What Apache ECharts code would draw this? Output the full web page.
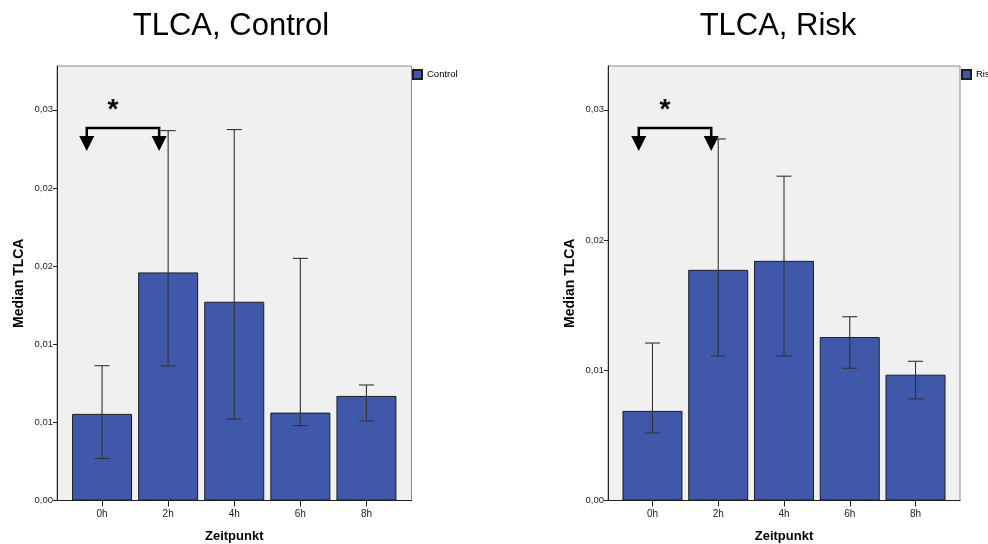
<!DOCTYPE html>
<html>
<head>
<meta charset="utf-8">
<script src="https://cdn.jsdelivr.net/npm/echarts@6/dist/echarts.min.js"></script>
<style>html,body{margin:0;padding:0;background:#fff}#c{width:988px;height:544px}</style>
</head>
<body>
<div id="c"></div>
<script>
const categories = ['0h', '2h', '4h', '6h', '8h'];
const controlMedian = [0.00665, 0.01751, 0.01526, 0.00675, 0.00803];
const controlLow    = [0.00322, 0.01033, 0.00626, 0.00575, 0.00611];
const controlHigh   = [0.01035, 0.02840, 0.02848, 0.01859, 0.00887];
const riskMedian = [0.00688, 0.01771, 0.01840, 0.01255, 0.00966];
const riskLow    = [0.00519, 0.01110, 0.01110, 0.01015, 0.00780];
const riskHigh   = [0.01209, 0.02776, 0.02490, 0.01411, 0.01069];
const controlTicks = [0, 0.006, 0.012, 0.018, 0.024, 0.030];
const riskTicks = [0, 0.01, 0.02, 0.03];
const yMax = 0.03336;
const sigLevel = 0.0286;   // height of the significance bracket (0h vs 2h)

const chart = echarts.init(document.getElementById('c'));
const FONT = 'Liberation Sans, Arial, sans-serif';
const BAR = '#3f58a9';
const DARK = '#222';

function errData(lo, hi) { return lo.map((v, i) => [i, v, hi[i]]); }

function errRender(params, api) {
  const x = api.value(0);
  const lo = api.coord([x, api.value(1)]);
  const hi = api.coord([x, api.value(2)]);
  const w = 7.5;
  const st = { stroke: '#333', lineWidth: 1.1 };
  return { type: 'group', children: [
    { type: 'line', shape: { x1: lo[0], y1: lo[1], x2: hi[0], y2: hi[1] }, style: st },
    { type: 'line', shape: { x1: lo[0] - w, y1: lo[1], x2: lo[0] + w, y2: lo[1] }, style: st },
    { type: 'line', shape: { x1: hi[0] - w, y1: hi[1], x2: hi[0] + w, y2: hi[1] }, style: st }
  ]};
}

function sigRender(off0, off1) {
  return function (params, api) {
    const a = api.coord([api.value(0), api.value(2)]);
    const b = api.coord([api.value(1), api.value(2)]);
    const x0 = a[0] + off0, x1 = b[0] + off1, y = a[1];
    return { type: 'group', children: [
      { type: 'polyline', shape: { points: [[x0, y + 9], [x0, y], [x1, y], [x1, y + 9]] },
        style: { stroke: '#000', lineWidth: 2.5, fill: null } },
      { type: 'polygon', shape: { points: [[x0 - 7.5, y + 8], [x0 + 7.5, y + 8], [x0, y + 23]] }, style: { fill: '#000' } },
      { type: 'polygon', shape: { points: [[x1 - 7.5, y + 8], [x1 + 7.5, y + 8], [x1, y + 23]] }, style: { fill: '#000' } },
      { type: 'text', x: (x0 + x1) / 2 - 10, y: y - 18,
        style: { text: '*', fill: '#000', font: 'bold 28px ' + FONT, align: 'center', verticalAlign: 'middle' } }
    ]};
  };
}

const fmt = v => v.toFixed(2).replace('.', ',');

function frameY(ticks, gi) {
  return {
    gridIndex: gi, type: 'value', min: 0, max: yMax,
    name: 'Median TLCA', nameLocation: 'middle', nameGap: 31,
    nameTextStyle: { fontFamily: FONT, fontWeight: 'bold', fontSize: 14, color: '#000' },
    axisLine: { show: true, lineStyle: { color: DARK, width: 1 } },
    axisTick: { show: true, length: 4, lineStyle: { color: DARK }, customValues: ticks },
    axisLabel: { show: true, fontSize: 9.5, fontFamily: FONT, color: '#222', margin: 4, formatter: fmt, customValues: ticks },
    splitLine: { show: false }
  };
}
function frameX(gi) {
  return { gridIndex: gi, type: 'value', min: 0, max: 1,
    axisLine: { show: true, onZero: false, lineStyle: { color: DARK, width: 1 } },
    axisTick: { show: false }, axisLabel: { show: false }, splitLine: { show: false } };
}
function dataX(gi) {
  return { gridIndex: gi, type: 'category', data: categories,
    name: 'Zeitpunkt', nameLocation: 'middle', nameGap: 29,
    nameTextStyle: { fontFamily: FONT, fontWeight: 'bold', fontSize: 13, color: '#000' },
    axisLine: { show: false },
    axisTick: { show: true, alignWithLabel: true, length: 6, lineStyle: { color: DARK } },
    axisLabel: { fontSize: 10, fontFamily: FONT, color: '#222', margin: 9 },
    splitLine: { show: false } };
}
function dataY(gi) {
  return { gridIndex: gi, type: 'value', min: 0, max: yMax, show: false, splitLine: { show: false } };
}

const frameStyle = { show: true, backgroundColor: '#f0f0f0', borderColor: '#8c8c8c', borderWidth: 1, outerBoundsMode: 'none', containLabel: false };
const dataStyle = { show: false, outerBoundsMode: 'none', containLabel: false };

chart.setOption({
  backgroundColor: '#fff',
  animation: false,
  title: [
    { text: 'TLCA, Control', left: 231, top: 11, padding: 0, textAlign: 'center',
      textStyle: { fontFamily: FONT, fontSize: 31, fontWeight: 'normal', color: '#000' } },
    { text: 'TLCA, Risk', left: 778, top: 11, padding: 0, textAlign: 'center',
      textStyle: { fontFamily: FONT, fontSize: 31, fontWeight: 'normal', color: '#000' } }
  ],
  legend: [
    { data: ['Control'], left: 412, top: 69, padding: 0, itemWidth: 9, itemHeight: 9, icon: 'rect',
      selectedMode: false, textStyle: { fontFamily: FONT, fontSize: 9.5, color: '#000' } },
    { data: ['Risk'], left: 961, top: 69, padding: 0, itemWidth: 9, itemHeight: 9, icon: 'rect',
      selectedMode: false, textStyle: { fontFamily: FONT, fontSize: 9.5, color: '#000' } }
  ],
  grid: [
    Object.assign({ left: 57, top: 66, width: 354.5, height: 434.5 }, frameStyle),
    Object.assign({ left: 69, top: 66, width: 330.5, height: 434.5 }, dataStyle),
    Object.assign({ left: 608, top: 66, width: 352, height: 434.5 }, frameStyle),
    Object.assign({ left: 619.6, top: 66, width: 328.8, height: 434.5 }, dataStyle)
  ],
  xAxis: [frameX(0), dataX(1), frameX(2), dataX(3)],
  yAxis: [frameY(controlTicks, 0), dataY(1), frameY(riskTicks, 2), dataY(3)],
  series: [
    { name: 'Control', type: 'bar', xAxisIndex: 1, yAxisIndex: 1, data: controlMedian, barWidth: 60,
      itemStyle: { color: BAR, borderColor: '#1e1e1e', borderWidth: 1 } },
    { name: 'errC', type: 'custom', xAxisIndex: 1, yAxisIndex: 1, data: errData(controlLow, controlHigh),
      encode: { x: 0, y: [1, 2] }, renderItem: errRender, z: 5 },
    { name: 'sigC', type: 'custom', xAxisIndex: 1, yAxisIndex: 1, data: [[0, 1, sigLevel]],
      encode: { x: [0, 1], y: 2 }, renderItem: sigRender(-15.3, -9), z: 6, clip: false },
    { name: 'Risk', type: 'bar', xAxisIndex: 3, yAxisIndex: 3, data: riskMedian, barWidth: 60,
      itemStyle: { color: BAR, borderColor: '#1e1e1e', borderWidth: 1 } },
    { name: 'errR', type: 'custom', xAxisIndex: 3, yAxisIndex: 3, data: errData(riskLow, riskHigh),
      encode: { x: 0, y: [1, 2] }, renderItem: errRender, z: 5 },
    { name: 'sigR', type: 'custom', xAxisIndex: 3, yAxisIndex: 3, data: [[0, 1, sigLevel]],
      encode: { x: [0, 1], y: 2 }, renderItem: sigRender(-13.7, -7), z: 6, clip: false }
  ]
});
</script>
</body>
</html>
